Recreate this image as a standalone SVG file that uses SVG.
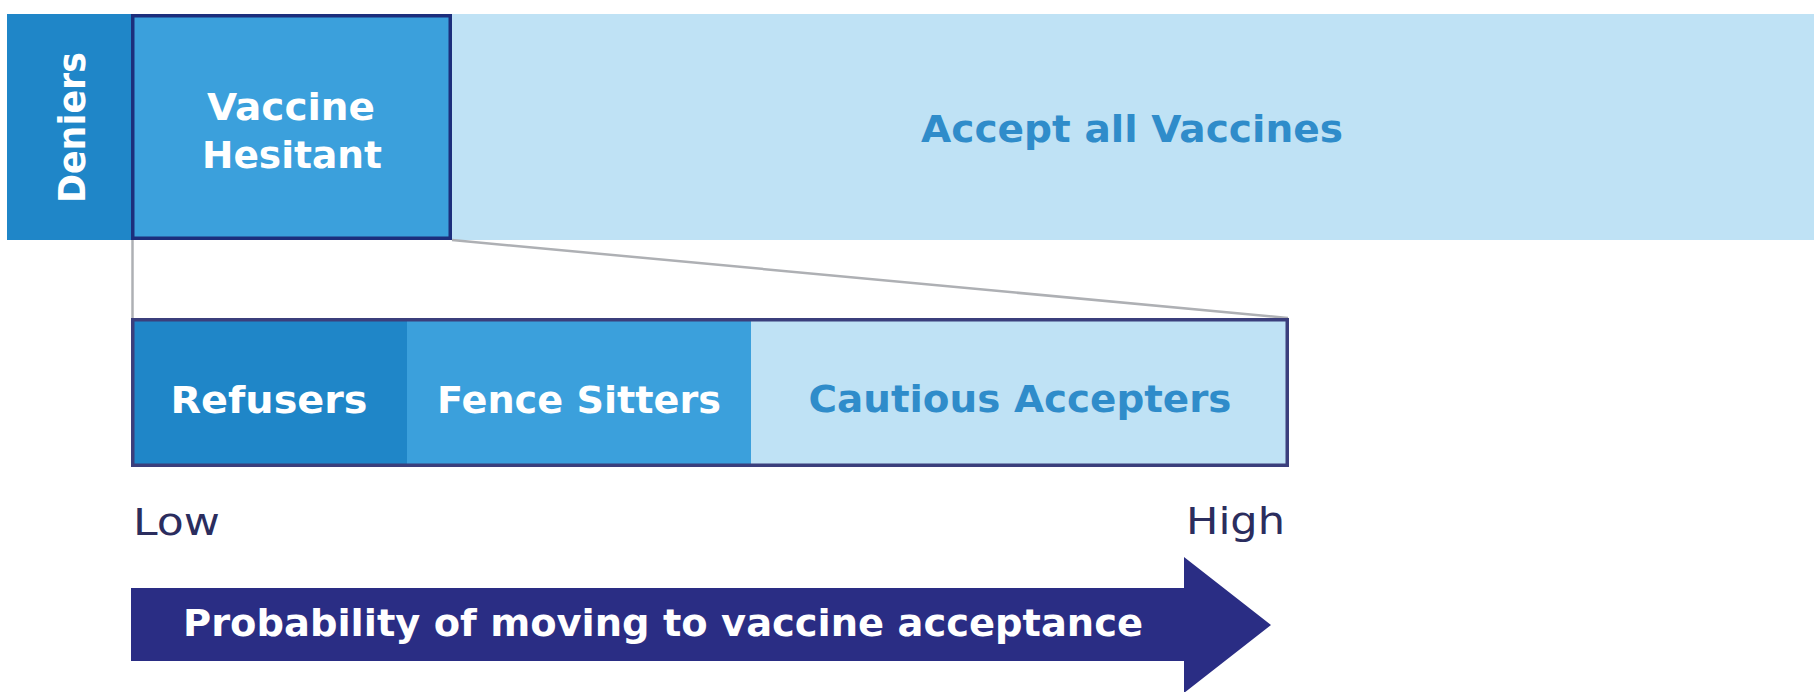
<svg xmlns="http://www.w3.org/2000/svg" width="1819" height="692" viewBox="0 0 1819 692">
  <style>
    .label { font-family: "DejaVu Sans", "Liberation Sans", sans-serif; font-weight: bold; font-size: 38px; text-anchor: middle; }
    .white { fill: #ffffff; }
    .blue { fill: #2f8cca; }
    .scale { font-family: "DejaVu Sans", "Liberation Sans", sans-serif; font-size: 38px; fill: #2b2d5e; }
    .dark { fill: #1f86c8; }
    .mid { fill: #3ba0dc; }
    .light { fill: #bfe2f5; }
    .frame { fill: none; stroke: #1c2e7c; stroke-width: 3.5; }
    .frame2 { fill: none; stroke: #3b3f7c; stroke-width: 3.5; }
    .link { stroke: #aeb0b4; stroke-width: 2.5; fill: none; }
  </style>

  <rect width="1819" height="692" fill="#ffffff"/>

  <!-- top row: whole population -->
  <g id="accept-all">
    <rect class="light" x="452" y="14" width="1362" height="226"/>
    <text class="label blue" x="1132" y="142" textLength="422" lengthAdjust="spacingAndGlyphs">Accept all Vaccines</text>
  </g>

  <g id="deniers">
    <rect class="dark" x="7" y="14" width="124" height="226"/>
    <text class="label white" x="85" y="127.5" font-size="40" textLength="151" lengthAdjust="spacingAndGlyphs" transform="rotate(-90 85 127.5)">Deniers</text>
  </g>

  <g id="vaccine-hesitant">
    <rect class="mid" x="131" y="14" width="321" height="226"/>
    <rect class="frame" x="132.75" y="15.75" width="317.5" height="222.5"/>
    <text class="label white" x="291" y="120" textLength="168" lengthAdjust="spacingAndGlyphs">Vaccine</text>
    <text class="label white" x="292" y="168" textLength="180" lengthAdjust="spacingAndGlyphs">Hesitant</text>
  </g>

  <!-- zoom lines from the hesitant block to its breakdown -->
  <g id="connectors">
    <line class="link" x1="132.5" y1="240" x2="132.5" y2="318"/>
    <line class="link" x1="452" y1="240" x2="1288" y2="318"/>
  </g>

  <!-- breakdown of the hesitant group -->
  <g id="refusers">
    <rect class="dark" x="131" y="318" width="276" height="149"/>
    <text class="label white" x="269" y="413" textLength="197" lengthAdjust="spacingAndGlyphs">Refusers</text>
  </g>

  <g id="fence-sitters">
    <rect class="mid" x="407" y="318" width="344" height="149"/>
    <text class="label white" x="579" y="413" textLength="284" lengthAdjust="spacingAndGlyphs">Fence Sitters</text>
  </g>

  <g id="cautious-accepters">
    <rect class="light" x="751" y="318" width="538" height="149"/>
    <text class="label blue" x="1020" y="412" textLength="423" lengthAdjust="spacingAndGlyphs">Cautious Accepters</text>
  </g>

  <rect class="frame2" x="132.75" y="319.75" width="1154.5" height="145.5"/>

  <!-- probability scale -->
  <g id="low">
    <text class="scale" x="133" y="535" textLength="87" lengthAdjust="spacingAndGlyphs">Low</text>
  </g>
  <g id="high">
    <text class="scale" x="1285" y="534" text-anchor="end" textLength="99" lengthAdjust="spacingAndGlyphs">High</text>
  </g>

  <g id="probability-arrow">
    <path d="M131 588 H1184 V557 L1271 625 L1184 693 V661 H131 Z" fill="#2a2d84"/>
    <text class="label white" x="663" y="636" font-size="34" textLength="960" lengthAdjust="spacingAndGlyphs">Probability of moving to vaccine acceptance</text>
  </g>
</svg>
